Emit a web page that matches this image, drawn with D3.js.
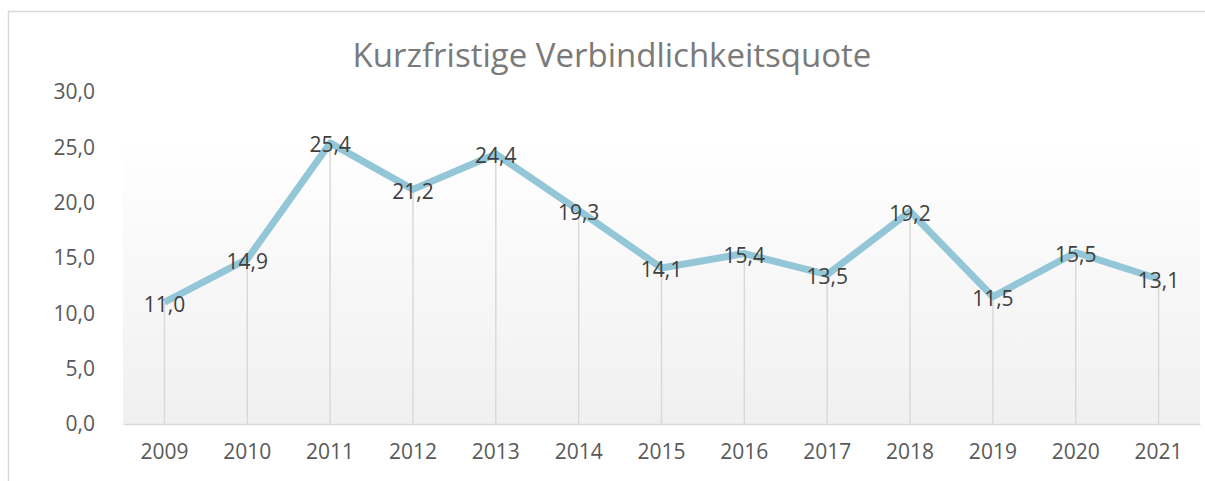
<!DOCTYPE html>
<html>
<head>
<meta charset="utf-8">
<script src="https://cdn.jsdelivr.net/npm/d3@7"></script>
<style>
  body { margin: 0; background: #fff; }
  text { font-family: "Open Sans", sans-serif; }
</style>
</head>
<body>
<div id="chart"></div>
<script>
// Data
const years = ['2009', '2010', '2011', '2012', '2013', '2014', '2015', '2016', '2017', '2018', '2019', '2020', '2021'];
const quote = [11.0, 14.9, 25.4, 21.2, 24.4, 19.3, 14.1, 15.4, 13.5, 19.2, 11.5, 15.5, 13.1];
const yTicks = [0, 5, 10, 15, 20, 25, 30];
const title = 'Kurzfristige Verbindlichkeitsquote';

const width = 1205;
const height = 481;
const plot = { left: 123, right: 1200, top: 137, bottom: 424 };

const fmt = v => d3.format('.1f')(v).replace('.', ',');

const svg = d3.select('#chart')
  .append('svg')
  .attr('width', width)
  .attr('height', height);

// chart frame
svg.append('rect')
  .attr('x', 8.5).attr('y', 11.5)
  .attr('width', width).attr('height', height)
  .attr('fill', '#fff')
  .attr('stroke', '#d9d9d9')
  .attr('stroke-width', 1.5);

// plot area gradient
const grad = svg.append('defs').append('linearGradient')
  .attr('id', 'plotBg')
  .attr('x1', 0).attr('y1', 0).attr('x2', 0).attr('y2', 1);
grad.append('stop').attr('offset', '0%').attr('stop-color', '#ffffff');
grad.append('stop').attr('offset', '100%').attr('stop-color', '#f0f0f0');

svg.append('rect')
  .attr('x', plot.left).attr('y', plot.top)
  .attr('width', plot.right - plot.left)
  .attr('height', plot.bottom - plot.top)
  .attr('fill', 'url(#plotBg)');

// scales
const x = d3.scaleBand()
  .domain(years)
  .range([plot.left, plot.right]);

const y = d3.scaleLinear()
  .domain([0, 30])
  .range([424, 92]);

const cx = d => x(d) + x.bandwidth() / 2;

// title
svg.append('text')
  .attr('x', 612)
  .attr('y', 67)
  .attr('text-anchor', 'middle')
  .attr('font-size', 33)
  .attr('fill', '#7a7a7a')
  .text(title);

// y axis labels
const yAxis = svg.append('g')
  .attr('transform', `translate(${plot.left - 28},0)`)
  .call(d3.axisLeft(y).tickValues(yTicks).tickFormat(fmt).tickSize(0).tickPadding(0));
yAxis.select('.domain').remove();
yAxis.selectAll('text')
  .attr('font-size', 21)
  .attr('fill', '#595959')
  .attr('font-family', '"Open Sans", sans-serif');

// drop lines
svg.append('g')
  .selectAll('line')
  .data(years)
  .enter()
  .append('line')
  .attr('x1', d => cx(d)).attr('x2', d => cx(d))
  .attr('y1', (d, i) => y(quote[i]))
  .attr('y2', y(0))
  .attr('stroke', '#d9d9d9')
  .attr('stroke-width', 1.5);

// x axis
const xAxis = svg.append('g')
  .attr('transform', `translate(0,${y(0)})`)
  .call(d3.axisBottom(x).tickSize(0).tickPadding(20));
xAxis.select('.domain')
  .attr('stroke', '#d9d9d9')
  .attr('stroke-width', 1.5);
xAxis.selectAll('text')
  .attr('font-size', 21)
  .attr('fill', '#595959')
  .attr('font-family', '"Open Sans", sans-serif');

// line
const line = d3.line()
  .x((d, i) => cx(years[i]))
  .y(d => y(d));

svg.append('path')
  .datum(quote)
  .attr('d', line)
  .attr('fill', 'none')
  .attr('stroke', '#93c6d7')
  .attr('stroke-width', 7)
  .attr('stroke-linejoin', 'round');

// data labels
svg.append('g')
  .selectAll('text')
  .data(quote)
  .enter()
  .append('text')
  .attr('x', (d, i) => cx(years[i]))
  .attr('y', d => y(d))
  .attr('dy', '0.45em')
  .attr('text-anchor', 'middle')
  .attr('font-size', 21)
  .attr('fill', '#404040')
  .text(fmt);
</script>
</body>
</html>
